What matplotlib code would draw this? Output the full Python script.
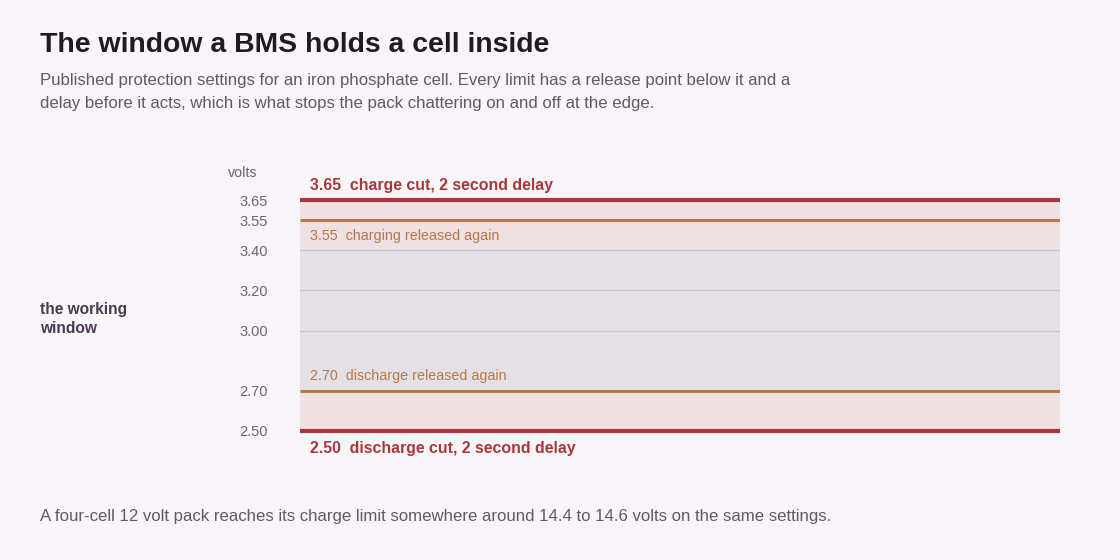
import matplotlib
matplotlib.use("Agg")
import matplotlib.pyplot as plt

plt.rcParams['font.family'] = ['Liberation Sans', 'DejaVu Sans']

# data
tick_values = [2.50, 2.70, 3.00, 3.20, 3.40, 3.55, 3.65]
tick_labels = ["2.50", "2.70", "3.00", "3.20", "3.40", "3.55", "3.65"]
grid_values = [3.00, 3.20, 3.40]
cut_levels = [3.65, 2.50]
cut_labels = ["3.65  charge cut, 2 second delay", "2.50  discharge cut, 2 second delay"]
release_levels = [3.55, 2.70]
release_labels = ["3.55  charging released again", "2.70  discharge released again"]
window_top = 3.40
window_bottom = 2.70

BG = "#f7f5f8"
RED = "#a8383a"
ORANGE = "#b87745"
PINK = "#efe0e2"
GRAY_FILL = "#e4e1e6"

fig = plt.figure(figsize=(11.2, 5.6), dpi=100, facecolor=BG)
ax = fig.add_axes([300/1120, (560-431)/560, 760/1120, 231/560])
ax.set_facecolor(BG)
ax.set_xlim(0, 1)
ax.set_ylim(cut_levels[1], cut_levels[0])

# bands
ax.axhspan(cut_levels[1], window_bottom, color=PINK, lw=0, zorder=0)
ax.axhspan(window_bottom, window_top, color=GRAY_FILL, lw=0, zorder=0)
ax.axhspan(window_top, cut_levels[0], color=PINK, lw=0, zorder=0)

for g in grid_values:
    ax.axhline(g, color="#c9c3cb", lw=0.9, zorder=1)

for lv in release_levels:
    ax.axhline(lv, color=ORANGE, lw=2.1, zorder=2, solid_capstyle="butt")
for lv in cut_levels:
    ax.axhline(lv, color=RED, lw=3.0, zorder=3, clip_on=False, solid_capstyle="butt")

# labels
ax.annotate(cut_labels[0], xy=(0, cut_levels[0]), xytext=(7, 5), textcoords="offset points",
            ha="left", va="bottom", fontsize=11.4, fontweight="bold", color=RED, annotation_clip=False)
ax.annotate(cut_labels[1], xy=(0, cut_levels[1]), xytext=(7, -7.5), textcoords="offset points",
            ha="left", va="top", fontsize=11.4, fontweight="bold", color=RED, annotation_clip=False)
ax.annotate(release_labels[0], xy=(0, release_levels[0]), xytext=(7, -6.5), textcoords="offset points",
            ha="left", va="top", fontsize=10.3, color=ORANGE, annotation_clip=False)
ax.annotate(release_labels[1], xy=(0, release_levels[1]), xytext=(7, 5.5), textcoords="offset points",
            ha="left", va="bottom", fontsize=10.3, color=ORANGE, annotation_clip=False)

ax.set_yticks(tick_values)
ax.set_yticklabels(tick_labels)
ax.tick_params(axis="y", length=0, pad=23, labelsize=10.5, labelcolor="#6b6670")
ax.set_xticks([])
for s in ax.spines.values():
    s.set_visible(False)

fig.text(228/1120, 1-173/560, "volts", fontsize=10.3, color="#6b6670", ha="left", va="center")

fig.text(40/1120, 1-45/560, "The window a BMS holds a cell inside", fontsize=20.4, fontweight="bold",
         color="#1e1c22", ha="left", va="center")
fig.text(40/1120, 1-92/560,
         "Published protection settings for an iron phosphate cell. Every limit has a release point below it and a\n"
         "delay before it acts, which is what stops the pack chattering on and off at the edge.",
         fontsize=12.1, color="#5f5a66", ha="left", va="center", linespacing=1.65)
fig.text(40/1120, 1-319/560, "the working\nwindow", fontsize=11.2, fontweight="bold", color="#4a3a52",
         ha="left", va="center", linespacing=1.35)
fig.text(40/1120, 1-516/560,
         "A four-cell 12 volt pack reaches its charge limit somewhere around 14.4 to 14.6 volts on the same settings.",
         fontsize=12.1, color="#5f5a66", ha="left", va="center")

fig.savefig("out.png", dpi=100, facecolor=BG)
